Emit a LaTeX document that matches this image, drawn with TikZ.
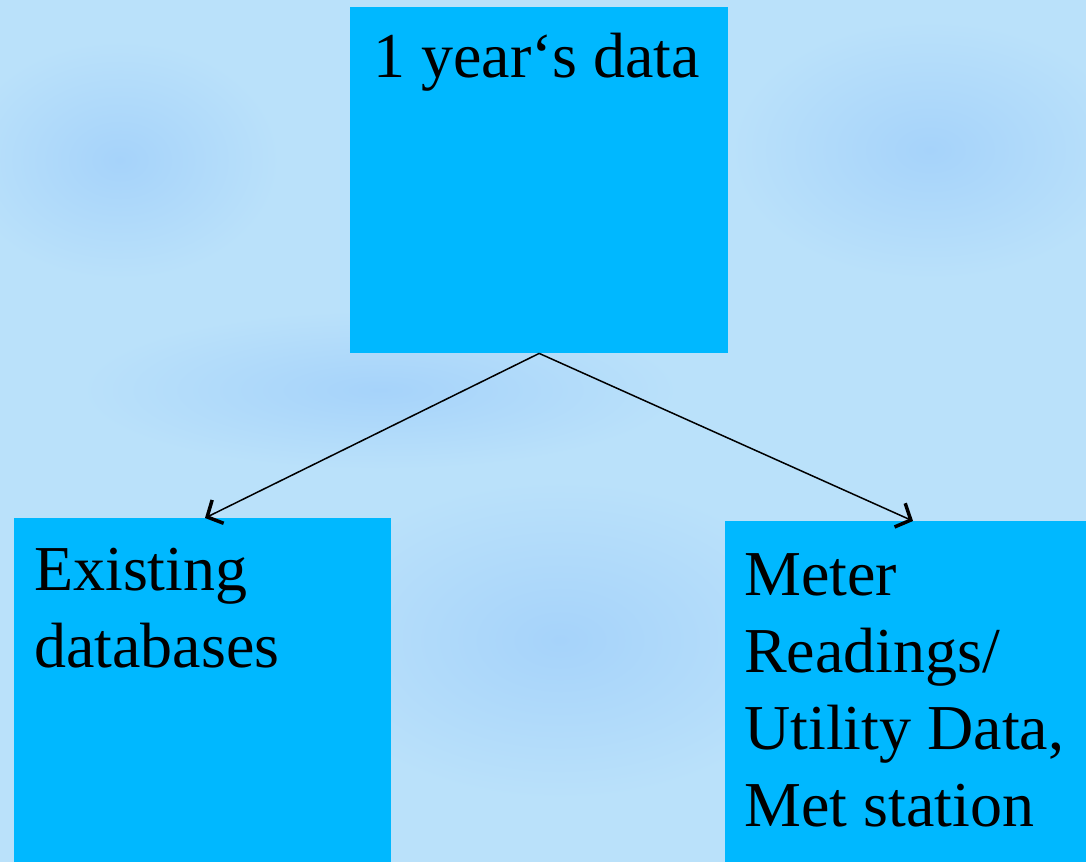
\documentclass[tikz,border=0pt]{standalone}
\usepackage{fontspec}
\setmainfont{Liberation Serif}
\usetikzlibrary{arrows.meta}
\definecolor{bgA}{RGB}{186,225,250}
\definecolor{bgB}{RGB}{166,211,250}
\definecolor{boxc}{RGB}{0,184,255}
\tikzset{
  box/.style={fill=boxc, draw=none, inner sep=0pt, anchor=north west},
  lbl/.style={anchor=north west, inner sep=0pt, align=left, font=\fontsize{64}{77}\selectfont, text=black},
  conn/.style={line width=1.5pt, -{Straight Barb[length=12pt,width=26pt,line width=3.5pt]}}
}
\begin{document}
\begin{tikzpicture}[x=1pt,y=-1pt]
\useasboundingbox (0,0) rectangle (1086,862);
\fill[bgA] (0,0) rectangle (1086,862);
\begin{scope}
\clip (0,0) rectangle (1086,862);
\shade[inner color=bgB, outer color=bgA] (380,390) ellipse (300 and 80);
\shade[inner color=bgB, outer color=bgA] (560,640) ellipse (260 and 160);
\shade[inner color=bgB, outer color=bgA] (930,150) ellipse (200 and 130);
\shade[inner color=bgB, outer color=bgA] (120,160) ellipse (160 and 120);
\end{scope}
\node[box, minimum width=378pt, minimum height=346pt] (top) at (350,7) {};
\node[box, minimum width=377pt, minimum height=344pt] (left) at (14,518) {};
\node[box, minimum width=361pt, minimum height=341pt] (right) at (725,521) {};
\node[lbl] (toptext) at (373,33) {1 year‘s data};
\node[lbl] (lefttext) at (34,548) {Existing\\databases};
\node[lbl] (righttext) at (744,553) {Meter\\Readings/\\Utility Data,\\Met station};
\draw[conn] (top.south) -- (left.north -| 205,0);
\draw[conn] (top.south) -- (right.north -| 913,0);
\end{tikzpicture}
\end{document}
